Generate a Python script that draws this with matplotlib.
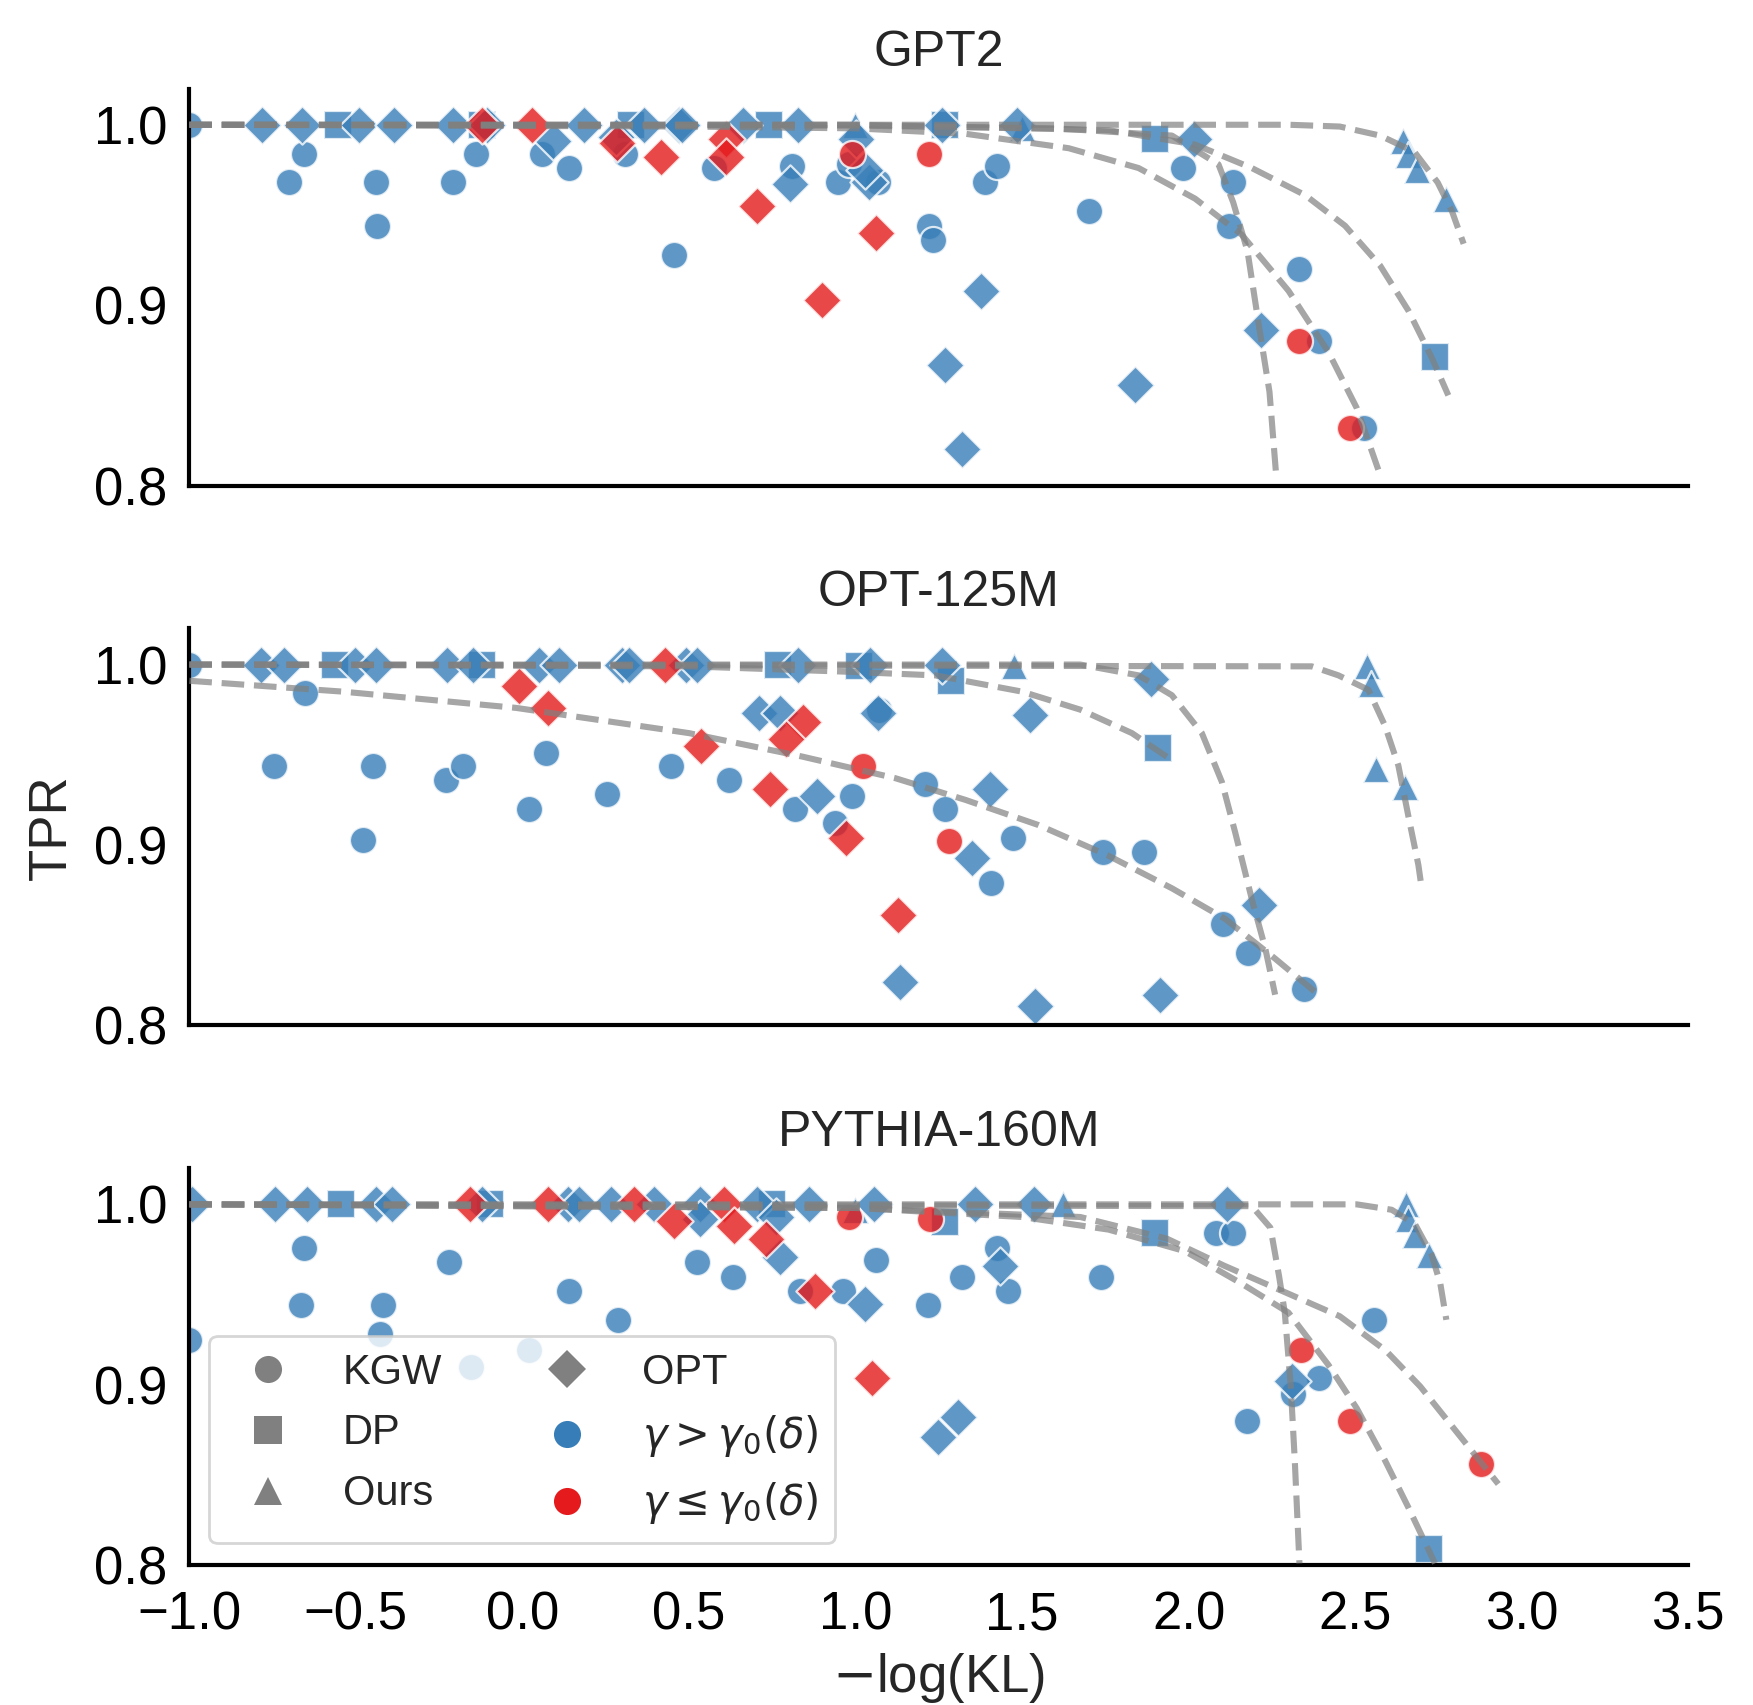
import matplotlib
matplotlib.use("Agg")
import matplotlib.pyplot as plt
from matplotlib.lines import Line2D

plt.rcParams["font.family"] = ["Liberation Sans", "DejaVu Sans"]
plt.rcParams["mathtext.fontset"] = "dejavusans"
plt.rcParams["axes.unicode_minus"] = True

# points: (-log(KL), TPR, 1 if gamma <= gamma0(delta) else 0)
gpt2_kgw = [(-1.0, 1.0, 0), (-0.657, 0.984, 0), (-0.700, 0.968, 0), (-0.441, 0.968, 0),
            (-0.438, 0.944, 0), (-0.209, 0.968, 0), (-0.140, 0.984, 0), (0.059, 0.984, 0),
            (0.140, 0.976, 0), (0.309, 0.984, 0), (0.455, 0.928, 0), (0.576, 0.976, 0),
            (0.809, 0.977, 0), (0.947, 0.968, 0), (0.981, 0.978, 0), (1.067, 0.968, 0),
            (1.222, 0.944, 0), (1.234, 0.936, 0), (1.39, 0.968, 0), (1.424, 0.977, 0),
            (1.70, 0.952, 0), (1.983, 0.976, 0), (2.134, 0.968, 0), (2.12, 0.944, 0),
            (2.333, 0.920, 0), (2.393, 0.880, 0), (2.528, 0.832, 0),
            (0.990, 0.984, 1), (1.22, 0.984, 1), (2.333, 0.880, 1), (2.485, 0.832, 1)]
gpt2_opt = [(-0.781, 1.0, 0), (-0.662, 1.0, 0), (-0.490, 1.0, 0), (-0.384, 1.0, 0),
            (-0.209, 1.0, 0), (-0.105, 1.0, 0), (0.184, 1.0, 0), (0.366, 1.0, 0),
            (0.469, 1.0, 0), (0.48, 1.0, 0), (0.662, 1.0, 0), (0.826, 1.0, 0),
            (1.26, 1.0, 0), (1.485, 1.0, 0), (0.093, 0.991, 0), (0.28, 0.993, 0),
            (0.803, 0.967, 0), (1.041, 0.968, 0), (1.03, 0.975, 0), (1.002, 0.992, 0),
            (1.377, 0.908, 0), (1.268, 0.867, 0), (1.839, 0.856, 0), (1.32, 0.820, 0),
            (2.016, 0.992, 0), (2.217, 0.886, 0),
            (-0.122, 1.0, 1), (0.029, 1.0, 1), (0.283, 0.990, 1), (0.416, 0.982, 1),
            (0.610, 0.992, 1), (0.610, 0.982, 1), (0.705, 0.955, 1), (0.900, 0.903, 1),
            (1.062, 0.940, 1)]
gpt2_dp = [(-0.553, 1.0, 0), (-0.122, 1.0, 0), (0.326, 1.0, 0), (0.740, 1.0, 0),
           (1.27, 1.0, 0), (1.90, 0.992, 0), (2.739, 0.871, 0)]
gpt2_ours = [(0.998, 1.0, 0), (1.50, 0.998, 0), (2.644, 0.991, 0), (2.658, 0.983, 0),
             (2.687, 0.975, 0), (2.774, 0.959, 0)]

opt_kgw = [(-1.0, 1.0, 0), (-0.652, 0.984, 0), (-0.747, 0.944, 0), (-0.450, 0.944, 0),
           (-0.229, 0.936, 0), (-0.178, 0.944, 0), (-0.479, 0.903, 0), (0.019, 0.920, 0),
           (0.072, 0.951, 0), (0.253, 0.928, 0), (0.447, 0.944, 0), (0.619, 0.936, 0),
           (0.817, 0.920, 0), (0.938, 0.912, 0), (0.990, 0.927, 0), (1.07, 0.975, 0),
           (1.208, 0.934, 0), (1.268, 0.920, 0), (1.473, 0.904, 0), (1.407, 0.879, 0),
           (1.744, 0.896, 0), (1.865, 0.896, 0), (2.104, 0.856, 0), (2.18, 0.840, 0),
           (2.346, 0.820, 0),
           (1.024, 0.944, 1), (1.282, 0.902, 1)]
opt_opt = [(-0.786, 1.0, 0), (-0.717, 1.0, 0), (-0.502, 1.0, 0), (-0.441, 1.0, 0),
           (-0.226, 1.0, 0), (-0.148, 1.0, 0), (0.05, 1.0, 0), (0.11, 1.0, 0),
           (0.30, 1.0, 0), (0.32, 1.0, 0), (0.49, 1.0, 0), (0.524, 1.0, 0),
           (0.826, 1.0, 0), (1.044, 1.0, 0), (1.26, 1.0, 0), (1.886, 0.992, 0),
           (0.709, 0.973, 0), (0.774, 0.973, 0), (0.886, 0.927, 0), (1.067, 0.973, 0),
           (1.525, 0.972, 0), (1.403, 0.931, 0), (1.351, 0.893, 0), (1.135, 0.824, 0),
           (1.54, 0.811, 0), (1.914, 0.817, 0), (2.211, 0.867, 0),
           (0.429, 1.0, 1), (-0.010, 0.988, 1), (0.076, 0.976, 1), (0.536, 0.955, 1),
           (0.843, 0.968, 1), (0.791, 0.959, 1), (0.743, 0.931, 1), (0.972, 0.904, 1),
           (1.127, 0.861, 1)]
opt_dp = [(-0.562, 1.0, 0), (-0.122, 1.0, 0), (0.766, 1.0, 0), (1.01, 0.999, 0),
          (1.286, 0.991, 0), (1.909, 0.954, 0)]
opt_ours = [(1.476, 0.999, 0), (2.535, 0.999, 0), (2.549, 0.989, 0), (2.563, 0.942, 0),
            (2.649, 0.932, 0)]

pythia_kgw = [(-1.0, 0.925, 0), (-0.657, 0.976, 0), (-0.666, 0.944, 0), (-0.419, 0.944, 0),
              (-0.429, 0.928, 0), (-0.221, 0.968, 0), (-0.153, 0.910, 0), (0.019, 0.919, 0),
              (0.14, 0.952, 0), (0.288, 0.936, 0), (0.524, 0.968, 0), (0.633, 0.960, 0),
              (0.834, 0.952, 0), (0.964, 0.952, 0), (1.062, 0.969, 0), (1.217, 0.944, 0),
              (1.32, 0.960, 0), (1.424, 0.976, 0), (1.459, 0.952, 0), (1.736, 0.960, 0),
              (2.082, 0.984, 0), (2.134, 0.984, 0), (2.557, 0.936, 0), (2.393, 0.904, 0),
              (2.315, 0.895, 0), (2.177, 0.880, 0),
              (0.981, 0.993, 1), (1.225, 0.992, 1), (2.338, 0.919, 1), (2.485, 0.880, 1),
              (2.877, 0.856, 1)]
pythia_opt = [(-0.993, 1.0, 0), (-0.743, 1.0, 0), (-0.648, 1.0, 0), (-0.441, 1.0, 0),
              (-0.390, 1.0, 0), (-0.122, 1.0, 0), (0.136, 1.0, 0), (0.171, 1.0, 0),
              (0.266, 1.0, 0), (0.395, 1.0, 0), (0.533, 1.0, 0), (0.705, 1.0, 0),
              (0.860, 1.0, 0), (1.055, 1.0, 0), (1.36, 1.0, 0), (1.537, 1.0, 0),
              (2.116, 1.0, 0), (0.533, 0.992, 0), (0.774, 0.971, 0), (0.76, 0.993, 0),
              (1.029, 0.945, 0), (1.433, 0.966, 0), (1.308, 0.882, 0), (1.248, 0.871, 0),
              (2.312, 0.902, 0),
              (-0.157, 1.0, 1), (0.076, 1.0, 1), (0.334, 1.0, 1), (0.605, 1.0, 1),
              (0.455, 0.991, 1), (0.636, 0.988, 1), (0.731, 0.981, 1), (0.878, 0.952, 1),
              (1.05, 0.904, 1)]
pythia_dp = [(-0.545, 1.0, 0), (-0.097, 1.0, 0), (0.748, 1.0, 0), (1.268, 0.990, 0),
             (1.90, 0.984, 0), (2.722, 0.809, 0)]
pythia_ours = [(1.0, 0.997, 0), (1.623, 1.0, 0), (2.653, 1.0, 0), (2.658, 0.992, 0),
               (2.679, 0.983, 0), (2.722, 0.972, 0)]

# dashed fitted frontiers
gpt2_curves = [
    [(-1.0, 1.0), (0.5, 0.999), (1.0, 0.998), (1.33, 0.995), (1.64, 0.987), (1.85, 0.976),
     (2.02, 0.959), (2.16, 0.939), (2.30, 0.908), (2.42, 0.874), (2.505, 0.843), (2.575, 0.806)],
    [(-1.0, 1.0), (1.0, 0.9995), (1.6, 0.998), (1.95, 0.994), (2.09, 0.978), (2.134, 0.957),
     (2.177, 0.930), (2.211, 0.889), (2.243, 0.852), (2.263, 0.806)],
    [(-1.0, 1.0), (1.0, 1.0), (1.76, 0.997), (2.02, 0.989), (2.19, 0.976), (2.35, 0.961),
     (2.47, 0.944), (2.575, 0.922), (2.66, 0.897), (2.73, 0.871), (2.78, 0.850)],
    [(-1.0, 1.0), (2.3, 1.0), (2.454, 0.999), (2.575, 0.994), (2.678, 0.985), (2.748, 0.968),
     (2.791, 0.952), (2.826, 0.934)],
]
opt_curves = [
    [(-1.0, 0.991), (-0.54, 0.985), (-0.02, 0.976), (0.5, 0.962), (0.84, 0.949), (1.12, 0.937),
     (1.33, 0.925), (1.55, 0.911), (1.76, 0.894), (1.95, 0.876), (2.11, 0.859), (2.26, 0.837),
     (2.39, 0.817)],
    [(-1.0, 1.0), (0.5, 0.999), (0.98, 0.996), (1.24, 0.994), (1.50, 0.985), (1.675, 0.975),
     (1.83, 0.962), (1.95, 0.947)],
    [(-1.0, 1.0), (1.675, 1.0), (1.85, 0.994), (1.95, 0.983), (2.04, 0.962), (2.10, 0.935),
     (2.14, 0.907), (2.19, 0.870), (2.23, 0.843), (2.26, 0.817)],
    [(-1.0, 1.0), (2.37, 0.999), (2.45, 0.994), (2.54, 0.986), (2.59, 0.966), (2.63, 0.944),
     (2.66, 0.916), (2.69, 0.889), (2.70, 0.876)],
]
pythia_curves = [
    [(-1.0, 1.0), (2.19, 0.999), (2.246, 0.987), (2.272, 0.960), (2.289, 0.940), (2.307, 0.899),
     (2.319, 0.858), (2.333, 0.801)],
    [(-1.0, 1.0), (1.0, 0.998), (1.50, 0.993), (1.76, 0.986), (1.99, 0.974), (2.16, 0.956),
     (2.30, 0.940), (2.42, 0.911), (2.505, 0.887), (2.59, 0.858), (2.66, 0.832), (2.74, 0.801)],
    [(-1.0, 1.0), (1.0, 0.998), (1.675, 0.993), (1.935, 0.981), (2.107, 0.966), (2.281, 0.952),
     (2.454, 0.938), (2.592, 0.919), (2.696, 0.899), (2.80, 0.875), (2.93, 0.845)],
    [(-1.0, 1.0), (2.505, 1.0), (2.61, 0.997), (2.68, 0.989), (2.73, 0.972), (2.756, 0.956),
     (2.774, 0.936)],
]

titles = ["GPT2", "OPT-125M", "PYTHIA-160M"]
panels = [
    {"KGW": gpt2_kgw, "DP": gpt2_dp, "Ours": gpt2_ours, "OPT": gpt2_opt},
    {"KGW": opt_kgw, "DP": opt_dp, "Ours": opt_ours, "OPT": opt_opt},
    {"KGW": pythia_kgw, "DP": pythia_dp, "Ours": pythia_ours, "OPT": pythia_opt},
]
curves = [gpt2_curves, opt_curves, pythia_curves]

markers = {"KGW": "o", "DP": "s", "Ours": "^", "OPT": "D"}
BLUE = "#377eb8"
RED = "#e41a1c"
TXT = "#262626"
S = 95

fig, axes = plt.subplots(3, 1, sharex=True, figsize=(8.765, 8.525), dpi=200)
fig.subplots_adjust(left=0.108, right=0.963, bottom=0.082, top=0.948, hspace=0.36)

for ax, title, data, cv in zip(axes, titles, panels, curves):
    for flag, col in [(0, BLUE), (1, RED)]:
        for m in ["KGW", "DP", "Ours", "OPT"]:
            pts = [p for p in data[m] if p[2] == flag]
            if not pts:
                continue
            ax.scatter([p[0] for p in pts], [p[1] for p in pts], s=S, marker=markers[m],
                       color=col, alpha=0.8, edgecolors="white", linewidths=0.8, zorder=2)
    for c in cv:
        ax.plot([p[0] for p in c], [p[1] for p in c], ls="--", color="gray",
                alpha=0.7, lw=2.2, zorder=3)
    ax.set_title(title, fontsize=18, pad=8, color=TXT)
    ax.set_xlim(-1.0, 3.5)
    ax.set_ylim(0.8, 1.02)
    ax.set_yticks([0.8, 0.9, 1.0])
    ax.set_yticklabels(["0.8", "0.9", "1.0"])
    ax.tick_params(axis="both", labelsize=19, length=0, colors="black")
    ax.tick_params(axis="y", pad=8)
    ax.tick_params(axis="x", pad=9)
    for sp in ["top", "right"]:
        ax.spines[sp].set_visible(False)
    for sp in ["left", "bottom"]:
        ax.spines[sp].set_linewidth(1.5)
        ax.spines[sp].set_color("black")

axes[2].set_xticks([-1.0, -0.5, 0.0, 0.5, 1.0, 1.5, 2.0, 2.5, 3.0, 3.5])
axes[2].set_xlabel("$-$log(KL)", fontsize=19, color=TXT, labelpad=4)
axes[1].set_ylabel("TPR", fontsize=19, color=TXT, labelpad=6)

ms = S ** 0.5
handles = [
    Line2D([], [], ls="", marker="o", color="gray", markersize=ms, markeredgewidth=0),
    Line2D([], [], ls="", marker="s", color="gray", markersize=ms, markeredgewidth=0),
    Line2D([], [], ls="", marker="^", color="gray", markersize=ms, markeredgewidth=0),
    Line2D([], [], ls="", marker="D", color="gray", markersize=ms, markeredgewidth=0),
    Line2D([], [], ls="", marker="o", color=BLUE, markersize=ms, markeredgewidth=0),
    Line2D([], [], ls="", marker="o", color=RED, markersize=ms, markeredgewidth=0),
]
labels = ["KGW", "DP", "Ours", "OPT", r"$\gamma > \gamma_0(\delta)$", r"$\gamma \leq \gamma_0(\delta)$"]
leg = axes[2].legend(handles, labels, ncol=2, loc="lower left", bbox_to_anchor=(0.0134, 0.056),
                     borderaxespad=0, fontsize=15, labelspacing=0.5, framealpha=0.8,
                     edgecolor="#cccccc", fancybox=True)
for t in leg.get_texts():
    t.set_color(TXT)

fig.savefig("out.png", dpi=200)
